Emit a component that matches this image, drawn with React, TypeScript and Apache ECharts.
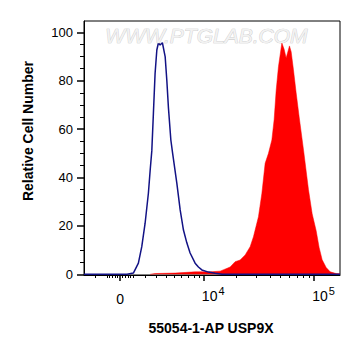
import React, { useEffect, useRef } from "react";
import * as echarts from "echarts";

// Fluorescence intensity (channel value) and relative cell counts
const blueX = [-3000, 530, 1020, 1420, 1700, 1980, 2270, 2430, 2580, 2730, 2890, 3060, 3220, 3390, 3630, 3930, 4120, 4300, 4590, 4810, 5350, 5810, 6290, 6810, 7350, 8240, 8870, 9570, 11050, 12770, 14820, 170000];
const blueY = [0, 0, 0.5, 4.6, 11.4, 21, 33.5, 43, 51, 66.6, 83, 92.7, 95.7, 94.8, 95.7, 90, 80, 69, 55.5, 50, 37.7, 26.6, 18.3, 13, 8.8, 4.6, 3, 1.8, 0.9, 0.4, 0, 0];

const redX = [2430, 2890, 5130, 8240, 11470, 14210, 17550, 19490, 21640, 24020, 26650, 28540, 31660, 33970, 36360, 38940, 41770, 43800, 45650, 47860, 51340, 53830, 56090, 60060, 62200, 65220, 68930, 73350, 80440, 88840, 95850, 104100, 110730, 117790, 127930, 138880, 157140, 170000];
const redY = [0, 0.3, 0.5, 1, 1, 1.3, 3, 5.2, 5.9, 8, 11.4, 15.5, 23.8, 33.4, 45.9, 50, 55.5, 64, 76, 85.8, 95.6, 93, 89.4, 94.4, 92, 84.5, 75, 65, 51, 35, 25, 18, 11, 6, 2.8, 1, 0.3, 0.2];

const yTicks = [0, 20, 40, 60, 80, 100];
const yMinorTicks = [5, 10, 15, 25, 30, 35, 45, 50, 55, 65, 70, 75, 85, 90, 95];
const xMajorTicks = [0, 10000, 100000];
const xMinorTicks = [-2000, -1000, -800, -600, -400, -200, 200, 400, 600, 800, 1000, 2000, 3000, 4000, 5000, 6000, 7000, 8000, 9000, 20000, 30000, 40000, 50000, 60000, 70000, 80000, 90000];
const xPowerLabels = [10000, 100000];

const X_MIN = -3000;
const X_MAX = 170000;
const Y_MIN = -0.3;
const Y_MAX = 104.7;

const C = 3690;
const T = (v: number) => Math.asinh(v / C) / Math.LN10;

const FONT = "Liberation Sans, Arial, sans-serif";

export default function App() {
  const ref = useRef<HTMLDivElement>(null);
  useEffect(() => {
    if (!ref.current) return;
    const chart = echarts.init(ref.current, undefined, { renderer: "svg" });
    const xMinT = T(X_MIN);
    const xMaxT = T(X_MAX);
    const option: any = {
      animation: false,
      grid: {
        left: 84,
        right: 21,
        top: 21,
        bottom: 81,
        show: true,
        borderColor: "#000",
        borderWidth: 1,
        backgroundColor: "transparent",
      },
      xAxis: [
        {
          type: "value",
          min: xMinT,
          max: xMaxT,
          position: "bottom",
          axisLine: { show: true, onZero: false, lineStyle: { color: "#000", width: 1 } },
          splitLine: { show: false },
          axisTick: {
            show: true,
            length: 6,
            customValues: xMajorTicks.map(T),
            lineStyle: { color: "#000", width: 1.5 },
          },
          axisLabel: {
            customValues: [T(0)],
            formatter: () => "0",
            fontSize: 14,
            color: "#000",
            fontFamily: FONT,
            margin: 17,
          },
        },
        {
          type: "value",
          min: xMinT,
          max: xMaxT,
          position: "bottom",
          axisLine: { show: false, onZero: false },
          splitLine: { show: false },
          axisTick: {
            show: true,
            length: 3,
            customValues: xMinorTicks.map(T),
            lineStyle: { color: "#000", width: 1 },
          },
          axisLabel: {
            customValues: xPowerLabels.map(T),
            formatter: (v: number) => {
              const p = Math.round(Math.log10(C * Math.sinh(v * Math.LN10)));
              return "{b|10}{s|" + p + "}";
            },
            align: "left",
            margin: 10,
            color: "#000",
            rich: {
              b: { fontSize: 14, fontFamily: FONT, color: "#000", verticalAlign: "bottom", padding: [0, 0, 0, -2] },
              s: { fontSize: 11, fontFamily: FONT, color: "#000", verticalAlign: "top", padding: [0, 0, 7, 1] },
            },
          },
        },
      ],
      yAxis: [
        {
          type: "value",
          min: Y_MIN,
          max: Y_MAX,
          axisLine: { show: true, onZero: false, lineStyle: { color: "#000", width: 1 } },
          splitLine: { show: false },
          axisTick: {
            show: true,
            length: 7,
            customValues: yTicks,
            lineStyle: { color: "#000", width: 1.5 },
          },
          axisLabel: {
            customValues: yTicks,
            fontSize: 13,
            color: "#000",
            fontFamily: FONT,
            margin: 11,
          },
        },
        {
          type: "value",
          min: Y_MIN,
          max: Y_MAX,
          position: "left",
          axisLine: { show: false, onZero: false },
          splitLine: { show: false },
          axisTick: {
            show: true,
            length: 4,
            customValues: yMinorTicks,
            lineStyle: { color: "#000", width: 1 },
          },
          axisLabel: { show: false },
        },
      ],
      series: [
        {
          type: "line",
          data: redX.map((x, i) => [T(x), redY[i]]),
          showSymbol: false,
          smooth: false,
          lineStyle: { color: "#ff0000", width: 0.5 },
          areaStyle: { color: "#ff0000", opacity: 1 },
          z: 2,
        },
        {
          type: "line",
          data: blueX.map((x, i) => [T(x), blueY[i]]),
          showSymbol: false,
          smooth: false,
          lineStyle: { color: "#121285", width: 1.5 },
          z: 3,
        },
      ],
      graphic: [
        {
          type: "text",
          left: 105,
          top: 25,
          z: 10,
          style: {
            text: "WWW.PTGLAB.COM",
            font: "italic 21px " + FONT,
            fill: "#f2f2f2",
            stroke: "#c4c4c4",
            lineWidth: 0.7,
          },
        },
        {
          type: "text",
          x: 28,
          y: 131,
          rotation: Math.PI / 2,
          style: {
            text: "Relative Cell Number",
            font: "bold 14px " + FONT,
            fill: "#000",
            textAlign: "center",
            textVerticalAlign: "middle",
          },
        },
        {
          type: "text",
          x: 211,
          y: 328,
          style: {
            text: "55054-1-AP USP9X",
            font: "bold 14px " + FONT,
            fill: "#000",
            textAlign: "center",
            textVerticalAlign: "middle",
          },
        },
      ],
    };
    chart.setOption(option);
    return () => chart.dispose();
  }, []);
  return (
    <div
      ref={ref}
      style={{ position: "fixed", left: 0, top: 0, width: 361, height: 356, background: "#fff" }}
    />
  );
}
